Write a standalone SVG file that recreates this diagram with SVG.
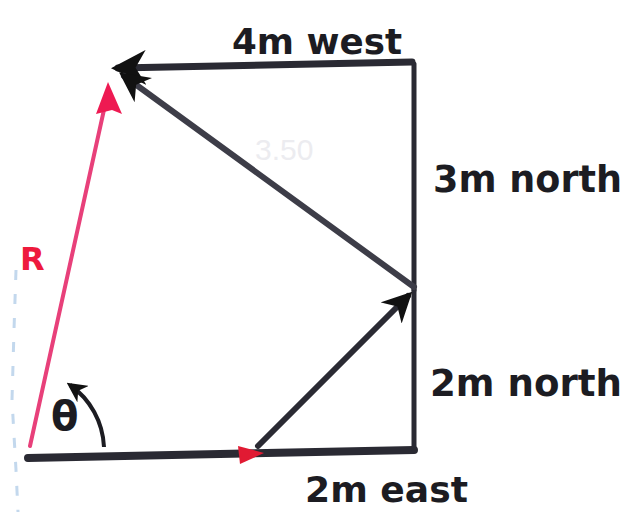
<svg xmlns="http://www.w3.org/2000/svg" width="629" height="512" viewBox="0 0 629 512">
<style>
.lbl{font-family:"DejaVu Sans","Liberation Sans",sans-serif;font-weight:bold;fill:#1c1c22;}
.ink{stroke:#2a2a33;stroke-linecap:round;fill:none;}
</style>
<defs>
<marker id="blk" viewBox="0 0 10 10" refX="8" refY="5" markerWidth="5" markerHeight="5" orient="auto" markerUnits="strokeWidth">
<path d="M0,0 L10,5 L0,10 L3,5 Z" fill="#111"/>
</marker>
</defs>
<rect width="629" height="512" fill="#ffffff"/>
<g id="smudge" stroke="#a9c8e6" stroke-width="3" stroke-dasharray="10,14" fill="none" opacity="0.7">
<path d="M16,270 L14,330 L12,400 L16,470 L18,512"/>
</g>
<text x="255" y="160" font-family="Liberation Sans,sans-serif" font-size="30" fill="#ececf0">3.50</text>
<g id="connectors">
<line id="east" class="ink" x1="28" y1="458" x2="414" y2="450" stroke-width="8"/>
<path d="M238,446 L264,453 L240,464 Z" fill="#e11a33"/>
<line id="north2" class="ink" x1="414" y1="290" x2="414" y2="450" stroke-width="5"/>
<line id="north3" class="ink" x1="414" y1="64" x2="414" y2="290" stroke-width="5"/>
<line id="west" class="ink" x1="412" y1="62" x2="118" y2="68" stroke-width="7" marker-end="url(#blk)"/>
<line id="diagUp" class="ink" x1="258" y1="446" x2="408" y2="296" stroke-width="6" marker-end="url(#blk)"/>
<line id="diagTop" x1="414" y1="287" x2="124" y2="76" stroke="#3d3d48" stroke-width="6" stroke-linecap="round" marker-end="url(#blk)"/>
<line id="resultant" x1="30" y1="446" x2="107" y2="96" stroke="#e8407a" stroke-width="4" stroke-linecap="round"/>
<path d="M108,82 L122,114 L112,110 L96,114 Z" fill="#ee1a52"/>
<path id="angle" d="M104,447 A80,80 0 0 0 70,385" stroke="#1c1c22" stroke-width="4" fill="none" marker-end="url(#blk)"/>
</g>
<g id="labels">
<text id="t4w" class="lbl" x="232" y="54" font-size="36" textLength="170" lengthAdjust="spacingAndGlyphs">4m west</text>
<text id="t3n" class="lbl" x="433" y="192" font-size="38" textLength="189" lengthAdjust="spacingAndGlyphs">3m north</text>
<text id="t2n" class="lbl" x="430" y="396" font-size="38" textLength="192" lengthAdjust="spacingAndGlyphs">2m north</text>
<text id="t2e" class="lbl" x="305" y="502" font-size="36" textLength="163" lengthAdjust="spacingAndGlyphs">2m east</text>
<text id="tR" x="20" y="270" font-family="DejaVu Sans,sans-serif" font-weight="bold" font-size="32" fill="#ee1a3c">R</text>
<text id="tTheta" class="lbl" x="51" y="430" font-size="40">θ</text>
</g>
</svg>
